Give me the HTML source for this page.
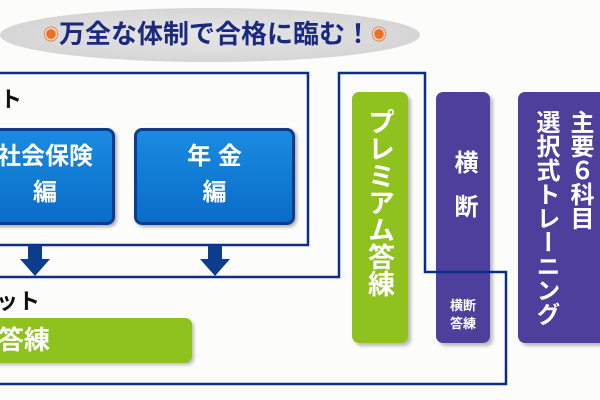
<!DOCTYPE html>
<html><head><meta charset="utf-8"><style>
*{margin:0;padding:0;box-sizing:border-box}
body{width:600px;height:400px;overflow:hidden;background:#fcfcfa;position:relative;font-family:"Liberation Sans","Noto Sans CJK JP",sans-serif}
.a{position:absolute}
.blue{background:linear-gradient(#1a8be0,#0a6cc8);border:3px solid #0b3d8c;border-radius:8px;color:#fff;font-weight:bold;font-size:24px;text-align:center;line-height:36px;box-shadow:2px 2px 3px #aaa}
.vt{writing-mode:vertical-rl;color:#fff;font-weight:bold}
.pur{background:#4f3f9c;border-radius:7px;box-shadow:3px 3px 3px #bbb}
</style></head><body>
<div class="a" style="left:0;top:8px;width:420px;height:54px;border-radius:50%;background:radial-gradient(#e6e6e6,#cfcfcf);"></div>
<div class="a" style="left:30px;top:17px;width:370px;text-align:center;font-size:26px;font-weight:bold;color:#1a2a80;line-height:34px;white-space:nowrap"><span style="color:#f07020;font-size:16px;vertical-align:middle">◉</span>万全な体制で合格に臨む！<span style="color:#f07020;font-size:16px;vertical-align:middle">◉</span></div>
<div class="a" style="left:0;top:82px;font-size:22px;color:#111;font-weight:bold">ト</div>
<div class="a blue" style="left:-25px;top:128px;width:140px;height:97px;padding-top:8px">社会保険<br>編</div>
<div class="a blue" style="left:134px;top:128px;width:161px;height:97px;padding-top:8px">年 金<br>編</div>
<div class="a" style="left:-4px;top:284px;font-size:22px;color:#111;font-weight:bold">ット</div>
<div class="a" style="left:-20px;top:318px;width:212px;height:45px;background:#8fc21f;border-radius:7px;color:#fff;font-weight:bold;font-size:26px;line-height:45px;padding-left:18px;box-shadow:2px 2px 3px #bbb">答練</div>
<div class="a" style="left:352px;top:92px;width:56px;height:251px;background:#8fc21f;border-radius:7px;box-shadow:3px 3px 3px #bbb"></div>
<div class="a vt" style="left:364px;top:108px;font-size:27px;line-height:30px">プレミアム答練</div>
<div class="a pur" style="left:436px;top:92px;width:54px;height:251px"></div>
<div class="a vt" style="left:449px;top:150px;font-size:24px;line-height:28px;letter-spacing:20px">横断</div>
<div class="a" style="left:436px;top:297px;width:54px;text-align:center;color:#fff;font-weight:bold;font-size:13px;line-height:18px">横断<br>答練</div>
<div class="a pur" style="left:518px;top:92px;width:92px;height:251px"></div>
<div class="a vt" style="left:528px;top:110px;font-size:24px;line-height:34px">主要６科目<br>選択式トレーニング</div>
<svg class="a" style="left:0;top:0" width="600" height="400">
<g fill="none" stroke="#0b2d8a" stroke-width="2.5">
<polyline points="0,73 308,73 308,245 0,245"/>
<polyline points="0,277 339,277 339,73 425,73 425,272 506,272 506,384 0,384"/>
</g>
<g fill="#0b3d8c">
<rect x="28" y="245" width="14" height="14"/><polygon points="20,259 50,259 35,276"/>
<rect x="208" y="245" width="14" height="14"/><polygon points="200,259 230,259 215,276"/>
</g>
</svg>
</body></html>
